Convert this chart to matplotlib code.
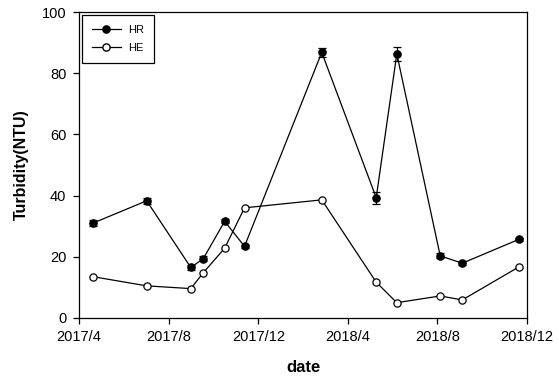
import matplotlib
matplotlib.use("Agg")
import matplotlib.pyplot as plt
import matplotlib.dates as mdates
from matplotlib.lines import Line2D
import pandas as pd

plt.rcParams['font.family'] = ['Liberation Sans', 'DejaVu Sans']

# sampling dates
dates = pd.to_datetime([
    "2017-04-20", "2017-07-02", "2017-08-31", "2017-09-17", "2017-10-16",
    "2017-11-12", "2018-02-25", "2018-05-10", "2018-06-07", "2018-08-05",
    "2018-09-04", "2018-11-20",
])

# turbidity (NTU)
hr = [31.0, 38.3, 16.5, 19.4, 31.6, 23.4, 86.8, 39.3, 86.3, 20.3, 17.9, 25.7]
hr_err = [0.9, 0.9, 0.7, 0.7, 0.7, 0.6, 1.5, 2.0, 2.2, 0.8, 0.6, 0.6]
he = [13.5, 10.5, 9.6, 14.8, 22.8, 36.0, 38.6, 11.7, 5.0, 7.2, 5.9, 16.7]

fig = plt.figure(figsize=(5.59, 3.81), dpi=100)
ax = fig.add_axes([0.1413, 0.1654, 0.8015, 0.8031])

ax.errorbar(dates, hr, yerr=hr_err, fmt='-o', color='black', mfc='black',
            mec='black', ms=5.2, lw=0.9, elinewidth=0.9, capsize=3,
            capthick=0.9, zorder=3)
ax.plot(dates, he, '-o', color='black', mfc='white', mec='black', ms=5.2,
        lw=0.9, mew=0.9, zorder=3)

ax.set_xlim(pd.Timestamp("2017-04-01"), pd.Timestamp("2018-12-01"))
ax.set_ylim(0, 100)
ax.set_yticks([0, 20, 40, 60, 80, 100])
ax.xaxis.set_major_locator(mdates.MonthLocator(bymonth=[4, 8, 12]))
ax.xaxis.set_major_formatter(
    matplotlib.ticker.FuncFormatter(lambda v, p: f"{mdates.num2date(v).year}/{mdates.num2date(v).month}"))

ax.tick_params(direction='out', length=4, width=0.9, labelsize=10.5, pad=5)
for s in ax.spines.values():
    s.set_linewidth(0.9)

ax.set_xlabel('date', fontsize=12, fontweight='bold', labelpad=11)
ax.set_ylabel('Turbidity(NTU)', fontsize=11.5, fontweight='bold', labelpad=9)

handles = [
    Line2D([], [], color='black', lw=0.9, marker='o', ms=5.2, mfc='black', mec='black'),
    Line2D([], [], color='black', lw=0.9, marker='o', ms=5.2, mfc='white', mec='black'),
]
leg = ax.legend(handles, ['HR', 'HE'], loc='upper left', fontsize=8,
                fancybox=False, framealpha=1, edgecolor='black',
                borderaxespad=0.25, handlelength=2.6, borderpad=0.9,
                labelspacing=0.75, handletextpad=0.7)
leg.get_frame().set_linewidth(0.9)

fig.savefig('out.png', dpi=100)
